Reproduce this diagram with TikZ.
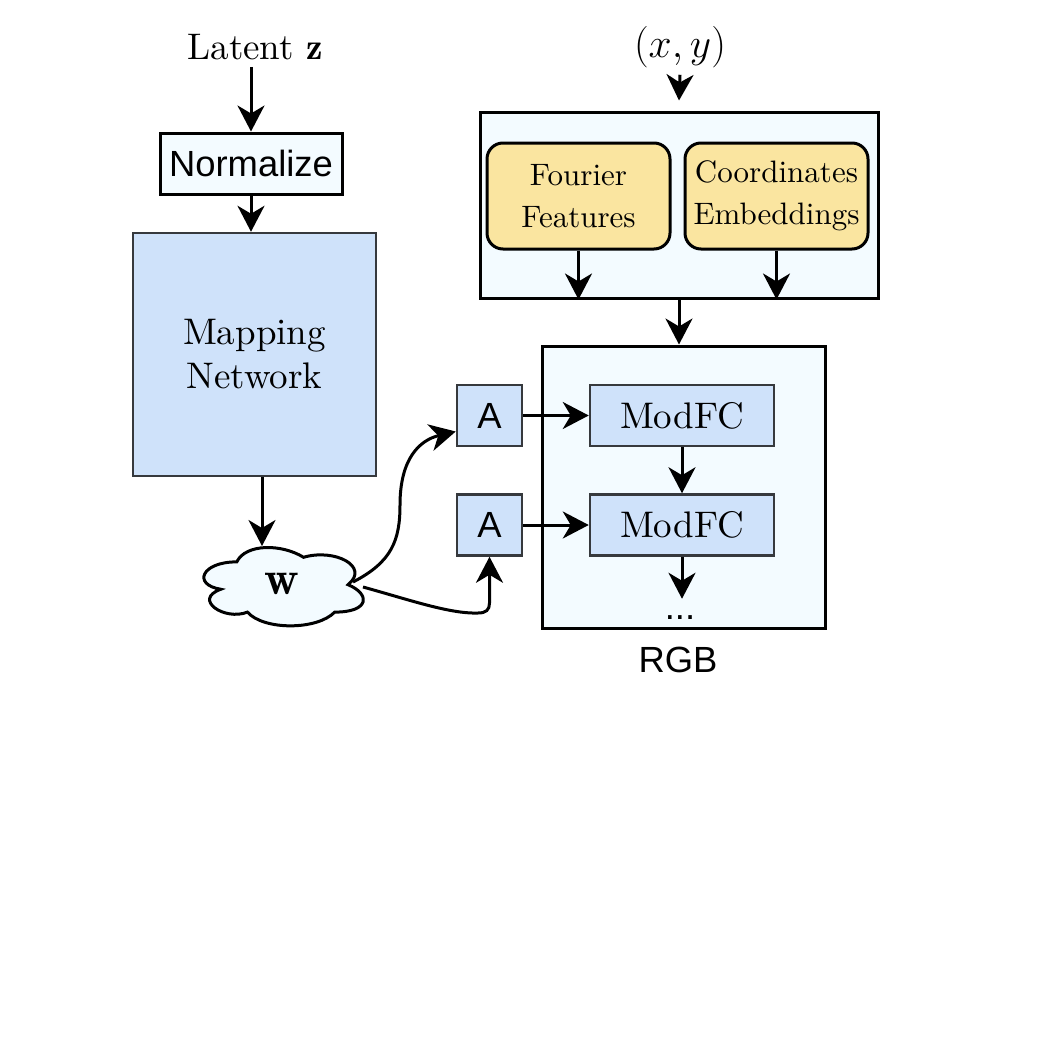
\documentclass[tikz,border=0pt]{standalone}
\usepackage{fontspec}
\newfontfamily\sansf{Liberation Sans}
\newfontfamily\serifx{lmroman10-regular}[Extension=.otf]
\usetikzlibrary{arrows.meta,calc}
\definecolor{lcyan}{HTML}{F3FBFF}
\definecolor{lblue}{HTML}{CFE2FA}
\definecolor{lgold}{HTML}{FAE5A0}
\definecolor{dgray}{HTML}{36393D}
\tikzset{
  arr/.style={draw=black, line width=1.5pt, -{Stealth[length=13pt,width=13.5pt,inset=4pt]}},
  bigtxt/.style={font=\serifx\fontsize{18.5}{22}\selectfont},
  sanstxt/.style={font=\sansf\fontsize{18.2}{21}\selectfont},
  cont/.style={draw=black, line width=1.5pt, fill=lcyan, inner sep=0pt},
  bluebox/.style={draw=dgray, line width=1.25pt, fill=lblue, inner sep=0pt},
  goldbox/.style={draw=black, line width=1.5pt, fill=lgold, rounded corners=8pt, inner sep=0pt,
    minimum width=91.5pt, minimum height=53pt, align=center,
    font=\serifx\fontsize{15.5}{21}\selectfont},
}
\begin{document}
\begin{tikzpicture}[x=0.5pt,y=-0.5pt]
\useasboundingbox (0,0) rectangle (1060,1060);

% containers
\node[cont, minimum width=199pt, minimum height=93pt] (top) at (679,205) {};
\node[cont, minimum width=141.5pt, minimum height=141pt] (rgb) at (683.5,487) {};

% left column
\node[bigtxt] (latent) at (255,47) {Latent $\mathbf{z}$};
\node[cont, sanstxt, minimum width=91pt, minimum height=30.5pt] (norm) at (251,163.5) {Normalize};
\node[bluebox, bigtxt, align=center, minimum width=121.5pt, minimum height=121.5pt] (map) at (254.5,354.5) {Mapping\\Network};

% cloud w
\begin{scope}[shift={(192.3,539)}, x=89pt, y=-45.7pt]
\draw[line width=1.5pt, fill=lcyan]
  (0.25,0.25) .. controls (0.05,0.25) and (0,0.5) .. (0.16,0.55)
  .. controls (0,0.66) and (0.18,0.9) .. (0.31,0.8)
  .. controls (0.4,1) and (0.7,1) .. (0.8,0.8)
  .. controls (1,0.8) and (1,0.6) .. (0.875,0.5)
  .. controls (1,0.3) and (0.8,0.1) .. (0.625,0.2)
  .. controls (0.5,0.05) and (0.3,0.05) .. cycle;
\end{scope}
\node[minimum width=81pt, minimum height=39.5pt, inner sep=0pt, font=\fontsize{24}{28}\selectfont] (w) at (282,584) {$\mathbf{w}$};

% A boxes
\node[bluebox, sanstxt, minimum width=32.5pt, minimum height=30.5pt] (a1) at (489.5,415.5) {A};
\node[bluebox, sanstxt, minimum width=32.5pt, minimum height=30.5pt] (a2) at (489.5,525) {A};

% ModFC
\node[bluebox, bigtxt, minimum width=92pt, minimum height=30.5pt] (m1) at (682,415.5) {ModFC};
\node[bluebox, bigtxt, minimum width=92pt, minimum height=30.5pt] (m2) at (682,525) {ModFC};
\node[sanstxt, inner sep=0pt] (dots) at (680,618) {...};
\node[sanstxt] (rgblbl) at (678,660) {RGB};

% top group
\node[font=\fontsize{20.5}{24}\selectfont] (xy) at (680,47) {$(x,y)$};
\node[goldbox] (four) at (578.5,196) {Fourier\\Features};
\node[goldbox] (coord) at (776.5,196) {Coordinates\\Embeddings};

% coordinates
\coordinate (xyend) at ([yshift=5pt]top.north);
\coordinate (dotsin) at ([yshift=-21pt]m2.south);
\coordinate (w1) at (353,582);
\coordinate (w2) at (363,587);
\coordinate (wtop) at (262,546);

% connectors
\draw[arr] (norm.north |- latent.south) -- (norm.north);
\draw[arr] (norm.south) -- (norm.south |- map.north);
\draw[arr] (map.south -| wtop) -- (wtop);
\draw[arr] (w1) .. controls (392,562) and (400,540) .. (400,505)
   .. controls (400,458) and (420,440) .. ([yshift=-8pt]a1.west);
\draw[arr] (w2) .. controls (410,600) and (450,614) .. (478,613)
   .. controls (486,613) and (489.5,610) .. (489.5,603) -- (a2.south);
\draw[arr] (a1.east) -- (m1.west);
\draw[arr] (a2.east) -- (m2.west);
\draw[arr] (m1.south) -- (m2.north);
\draw[arr] (m2.south) -- (dotsin);
\draw[arr] (xy.south) -- (xyend);
\draw[arr] (four.south) -- (four.south |- top.south);
\draw[arr] (coord.south) -- (coord.south |- top.south);
\draw[arr] (top.south) -- (top.south |- rgb.north);
\end{tikzpicture}
\end{document}
